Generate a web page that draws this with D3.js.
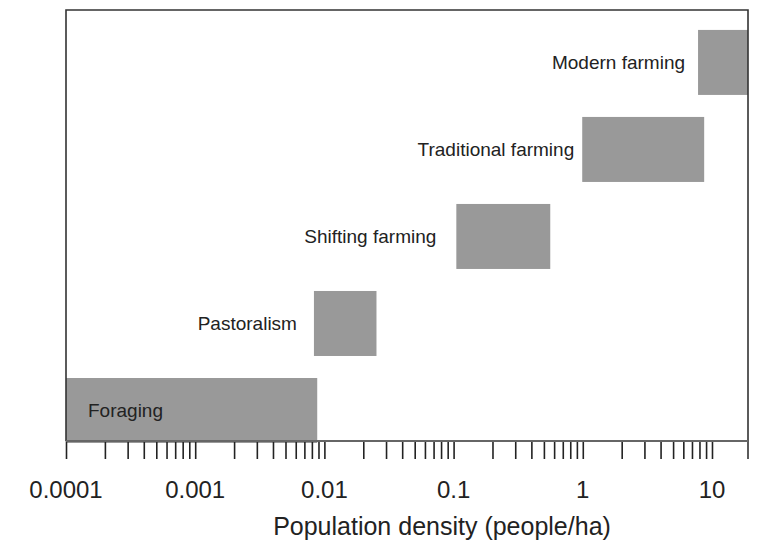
<!DOCTYPE html>
<html>
<head>
<meta charset="utf-8">
<script src="https://cdn.jsdelivr.net/npm/d3@7"></script>
<style>
  body { margin: 0; background: #fff; }
  text { font-family: "Liberation Sans", Arial, sans-serif; fill: #222; }
</style>
</head>
<body>
<div id="chart"></div>
<script>
// subsistence types, population density ranges (people/ha)
var categories = ["Foraging", "Pastoralism", "Shifting farming", "Traditional farming", "Modern farming"];
var lowValues = [0.0001, 0.0083, 0.105, 0.99, 7.8];
var highValues = [0.0088, 0.0253, 0.56, 8.7, 19];
var tickValues = [0.0001, 0.001, 0.01, 0.1, 1, 10];
var tickLabels = ["0.0001", "0.001", "0.01", "0.1", "1", "10"];

// gap between label and bar (label sits left of bar, foraging sits inside)
var labelGap = [-22, 17, 20, 8, 13];

var width = 757;
var height = 542;
var margin = {left: 66, right: 9, top: 10, bottom: 101};

var svg = d3.select("#chart")
    .append("svg")
    .attr("width", width)
    .attr("height", height);

var data = categories.map(function(c, i) {
    return {name: c, lo: lowValues[i], hi: highValues[i], gap: labelGap[i]};
});

var xScale = d3.scaleLog()
    .domain([0.0001, 19])
    .range([margin.left, width - margin.right]);

var yScale = d3.scaleBand()
    .domain(categories.slice().reverse())
    .range([8, 443])
    .paddingInner(0.253)
    .paddingOuter(0.126)
    .align(1);

var plotBottom = height - margin.bottom;

// bars
svg.selectAll("rect.bar")
    .data(data)
    .enter()
    .append("rect")
    .attr("class", "bar")
    .attr("x", function(d) { return xScale(d.lo); })
    .attr("width", function(d) { return xScale(d.hi) - xScale(d.lo); })
    .attr("y", function(d) { return yScale(d.name); })
    .attr("height", yScale.bandwidth())
    .attr("fill", "#999999");

// labels
svg.selectAll("text.cat")
    .data(data)
    .enter()
    .append("text")
    .attr("class", "cat")
    .attr("x", function(d) { return xScale(d.lo) - d.gap; })
    .attr("y", function(d) { return yScale(d.name) + yScale.bandwidth() / 2; })
    .attr("dy", "0.35em")
    .style("font-size", "19px")
    .style("text-anchor", function(d) { return d.gap < 0 ? "start" : "end"; })
    .text(function(d) { return d.name; });

// minor ticks for every 1..9 within each decade
var allTicks = xScale.ticks().filter(function(t) { return t <= 19; });

var xAxis = d3.axisBottom(xScale)
    .tickValues(allTicks)
    .tickSize(18)
    .tickFormat("");

var axisG = svg.append("g")
    .attr("transform", "translate(0," + plotBottom + ")")
    .call(xAxis);
axisG.select(".domain").remove();
axisG.selectAll(".tick line")
    .attr("stroke", "#222")
    .attr("stroke-width", 1.6);

// tick labels
svg.selectAll("text.tl")
    .data(tickValues)
    .enter()
    .append("text")
    .attr("class", "tl")
    .attr("x", function(d) { return xScale(d); })
    .attr("y", 498)
    .style("font-size", "24px")
    .style("text-anchor", "middle")
    .text(function(d, i) { return tickLabels[i]; });

// frame
svg.append("path")
    .attr("d", "M" + margin.left + "," + plotBottom + "V" + margin.top +
               "H" + (width - margin.right) + "V" + (plotBottom + 18))
    .attr("fill", "none")
    .attr("stroke", "#333")
    .attr("stroke-width", 1.6);

svg.append("line")
    .attr("x1", margin.left)
    .attr("x2", width - margin.right)
    .attr("y1", plotBottom)
    .attr("y2", plotBottom)
    .attr("stroke", "#666")
    .attr("stroke-width", 2);

// axis title
svg.append("text")
    .attr("x", 442)
    .attr("y", 535)
    .style("font-size", "25px")
    .style("text-anchor", "middle")
    .text("Population density (people/ha)");
</script>
</body>
</html>
